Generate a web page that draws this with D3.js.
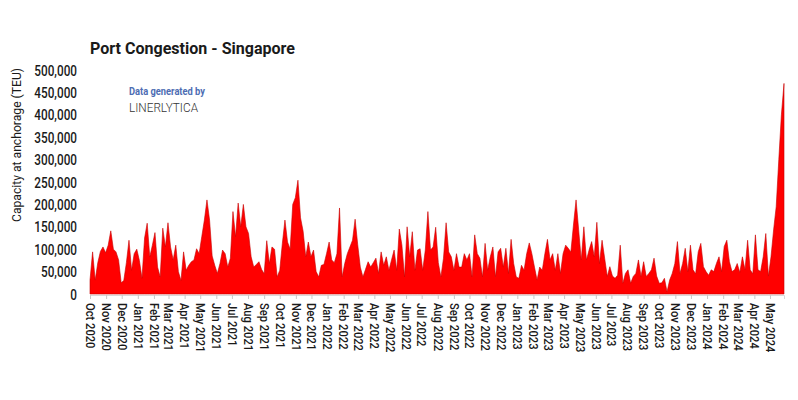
<!DOCTYPE html>
<html>
<head>
<meta charset="utf-8">
<script src="https://cdn.jsdelivr.net/npm/d3@7"></script>
<style>
  html, body { margin: 0; padding: 0; background: #fff; }
  svg { display: block; }
  text { font-family: "Roboto", "Liberation Sans", sans-serif; }
</style>
</head>
<body>
<svg id="chart" width="798" height="400"></svg>
<script>
// ---- DATA ----
const chartTitle = "Port Congestion - Singapore";
const yAxisTitle = "Capacity at anchorage (TEU)";
const seriesStart = "2020-10-01";
const stepDays = 5;
// Capacity at anchorage, thousand TEU, one reading every 5 days
const capacityK = [
  31,94,31,70,95,105,92,109,141,100,
  94,76,25,30,70,120,53,90,100,75,
  35,125,158,83,109,137,60,38,147,105,
  159,105,76,109,50,30,94,53,64,72,
  76,101,90,128,165,210,165,85,64,46,
  68,98,90,60,80,184,128,203,150,200,
  150,135,83,60,66,72,55,45,119,68,
  105,100,38,53,113,165,116,100,200,215,
  254,170,140,83,116,83,98,50,38,64,
  66,90,116,76,70,90,192,38,68,90,
  105,120,167,110,60,38,55,72,60,70,
  80,46,94,64,83,53,76,98,53,145,
  109,38,150,83,139,53,98,101,53,98,
  184,98,105,149,70,38,80,159,94,83,
  53,90,60,60,90,76,90,38,132,90,
  80,38,113,53,83,105,38,94,102,60,
  102,46,122,68,38,35,64,53,90,114,
  90,60,31,60,53,90,122,76,90,53,
  90,46,90,109,102,94,154,210,143,76,
  150,76,98,117,83,160,68,120,80,39,
  61,40,35,42,109,24,46,54,24,39,
  46,76,39,72,39,46,54,80,40,24,
  25,35,5,31,46,68,117,46,68,102,
  50,109,54,45,94,113,61,50,42,54,
  50,68,83,50,106,120,72,50,54,68,
  48,83,54,120,54,45,132,54,50,83,
  135,40,83,143,195,300,400,470
];
const yTicks = [0,50000,100000,150000,200000,250000,300000,350000,400000,450000,500000];
const monthLabels = [
  "Oct 2020","Nov 2020","Dec 2020","Jan 2021","Feb 2021","Mar 2021","Apr 2021","May 2021",
  "Jun 2021","Jul 2021","Aug 2021","Sep 2021","Oct 2021","Nov 2021","Dec 2021","Jan 2022",
  "Feb 2022","Mar 2022","Apr 2022","May 2022","Jun 2022","Jul 2022","Aug 2022","Sep 2022",
  "Oct 2022","Nov 2022","Dec 2022","Jan 2023","Feb 2023","Mar 2023","Apr 2023","May 2023",
  "Jun 2023","Jul 2023","Aug 2023","Sep 2023","Oct 2023","Nov 2023","Dec 2023","Jan 2024",
  "Feb 2024","Mar 2024","Apr 2024","May 2024"
];

// ---- BUILD ----
const parseDay = d3.utcParse("%Y-%m-%d");
const parseMonth = d3.utcParse("%b %Y");
const start = parseDay(seriesStart);
const series = capacityK.map((v, i) => ({ date: d3.utcDay.offset(start, i * stepDays), value: v * 1000 }));

// condense text horizontally (emulates a condensed face)
function condense(sel, factor) {
  sel.each(function () {
    const len = this.getComputedTextLength();
    d3.select(this).attr("textLength", len * factor).attr("lengthAdjust", "spacingAndGlyphs");
  });
}

const svg = d3.select("#chart");
const x = d3.scaleUtc()
  .domain([start, series[series.length - 1].date])
  .range([90, 784]);
const y = d3.scaleLinear().domain([0, 500000]).range([294, 70]);

const area = d3.area()
  .x(d => x(d.date))
  .y0(y(0))
  .y1(d => y(d.value))
  .curve(d3.curveLinear);

svg.append("path")
  .datum(series)
  .attr("d", area)
  .attr("fill", "#ff0000")
  .attr("stroke", "#c80000")
  .attr("stroke-width", 0.6)
  .attr("stroke-linejoin", "miter");

// y axis
const yAxis = d3.axisLeft(y).tickValues(yTicks).tickFormat(d3.format(",")).tickSize(0).tickPadding(0);
const gy = svg.append("g").attr("transform", "translate(77,0)").call(yAxis);
gy.select(".domain").remove();
gy.selectAll("text")
  .attr("font-size", 14)
  .attr("font-weight", 500)
  .attr("fill", "#1a1a1a")
  .attr("font-family", "Roboto, sans-serif")
  .attr("dy", "0.36em");
condense(gy.selectAll("text"), 0.84);

// x axis
const monthDates = monthLabels.map(m => parseMonth(m));
const xAxis = d3.axisBottom(x).tickValues(monthDates).tickFormat((d, i) => monthLabels[i]).tickSize(4).tickPadding(0);
const gx = svg.append("g").attr("transform", "translate(0,295)").call(xAxis);
gx.select(".domain").attr("stroke", "#d9d9d9");
gx.selectAll(".tick line").attr("stroke", "#c8c8c8");
gx.selectAll("text")
  .attr("font-size", 13)
  .attr("font-weight", 500)
  .attr("fill", "#1a1a1a")
  .attr("font-family", "Roboto, sans-serif")
  .attr("text-anchor", "start")
  .attr("transform", "rotate(90)")
  .attr("x", 8)
  .attr("y", 0)
  .attr("dy", "0.36em");
condense(gx.selectAll("text"), 0.86);

// title
const title = svg.append("text")
  .attr("x", 90).attr("y", 54)
  .attr("font-size", 17)
  .attr("font-weight", "bold")
  .attr("fill", "#1a1a1a")
  .text(chartTitle);
title.attr("textLength", 205).attr("lengthAdjust", "spacingAndGlyphs");

// y axis title
svg.append("text")
  .attr("transform", "translate(21,145) rotate(-90)")
  .attr("text-anchor", "middle")
  .attr("font-size", 12.5)
  .attr("fill", "#1a1a1a")
  .attr("textLength", 154)
  .attr("lengthAdjust", "spacingAndGlyphs")
  .text(yAxisTitle);

// watermark
svg.append("text")
  .attr("x", 129).attr("y", 95)
  .attr("font-size", 10)
  .attr("font-weight", "bold")
  .attr("fill", "#4d6db3")
  .attr("textLength", 76)
  .attr("lengthAdjust", "spacingAndGlyphs")
  .text("Data generated by");
svg.append("text")
  .attr("x", 129).attr("y", 112)
  .attr("font-size", 13)
  .attr("font-weight", 300)
  .attr("fill", "#333")
  .attr("textLength", 69)
  .attr("lengthAdjust", "spacingAndGlyphs")
  .text("LINERLYTICA");
</script>
</body>
</html>
